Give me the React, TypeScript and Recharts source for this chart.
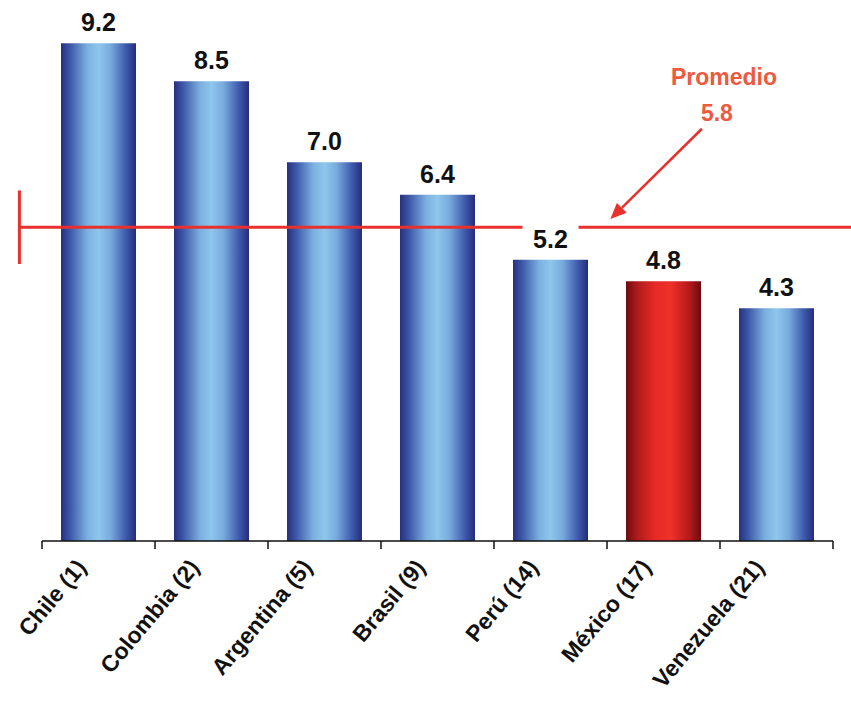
import React from "react";
import { Bar, Cell, ComposedChart, LabelList, ReferenceLine, XAxis, YAxis } from "recharts";

const COUNTRIES = ["Chile (1)", "Colombia (2)", "Argentina (5)", "Brasil (9)", "Perú (14)", "México (17)", "Venezuela (21)"];
const SCORES = [9.2, 8.5, 7.0, 6.4, 5.2, 4.8, 4.3];
const HIGHLIGHT = "México (17)";
const AVG = 5.8;
const EDGE_TICKS = [0, 1, 2, 3, 4, 5, 6, 7];

// slot = numeric position of each category on the tick-mark axis (category i spans i..i+1)
const data = COUNTRIES.map((name, i) => ({ name, score: SCORES[i], slot: i + 0.5 }));

const FONT = "'Liberation Sans', Arial, sans-serif";
const RED = "#e8302c";
const NOTE = "#ee5a3e";

function ValueLabel(props: any) {
  const { x, y, width, value } = props;
  const cx = x + width / 2;
  return (
    <g>
      <rect x={cx - 28} y={y - 36} width={56} height={30} fill="#fff" />
      <text x={cx} y={y - 12} textAnchor="middle" fontFamily={FONT} fontWeight="bold" fontSize={25} fill="#111">
        {Number(value).toFixed(1)}
      </text>
    </g>
  );
}

function CountryTick(props: any) {
  const { x, y, payload } = props;
  const tx = x - 11;
  return (
    <text
      x={tx}
      y={y}
      transform={`rotate(-50 ${tx} ${y})`}
      textAnchor="end"
      fontFamily={FONT}
      fontWeight="bold"
      fontSize={23}
      fill="#111"
    >
      {payload.value}
    </text>
  );
}

// arrow pointing at the average line, with its note at the tail
function AvgArrow(props: any) {
  const { x1, y1, x2, y2 } = props;
  const a = Math.atan2(y2 - y1, x2 - x1);
  const len = 16;
  const w = 7;
  const bx = x2 - len * Math.cos(a);
  const by = y2 - len * Math.sin(a);
  const px = -Math.sin(a) * w;
  const py = Math.cos(a) * w;
  return (
    <g>
      <line x1={x1} y1={y1} x2={bx} y2={by} stroke={RED} strokeWidth={2.5} />
      <polygon points={`${x2},${y2} ${bx + px},${by + py} ${bx - px},${by - py}`} fill={RED} />
      <text x={x1 + 22} y={y1 - 44} textAnchor="middle" fontFamily={FONT} fontWeight="bold" fontSize={23} fill={NOTE}>
        Promedio
      </text>
      <text x={x1 + 15} y={y1 - 8} textAnchor="middle" fontFamily={FONT} fontWeight="bold" fontSize={23} fill={NOTE}>
        {AVG.toFixed(1)}
      </text>
    </g>
  );
}

export default function App() {
  return (
    <div style={{ position: "absolute", left: 0, top: 0, width: 851, height: 701, background: "#fff" }}>
      <ComposedChart width={851} height={701} data={data} margin={{ top: 0, right: 18, left: 42, bottom: 0 }}>
        <defs>
          <linearGradient id="blueBar" x1="0" y1="0" x2="1" y2="0">
            <stop offset="0%" stopColor="#27307f" />
            <stop offset="12%" stopColor="#3c57a8" />
            <stop offset="35%" stopColor="#7cb0e0" />
            <stop offset="50%" stopColor="#8ec6ec" />
            <stop offset="66%" stopColor="#78abdc" />
            <stop offset="86%" stopColor="#3f5cae" />
            <stop offset="100%" stopColor="#262c7a" />
          </linearGradient>
          <linearGradient id="redBar" x1="0" y1="0" x2="1" y2="0">
            <stop offset="0%" stopColor="#6e0c10" />
            <stop offset="15%" stopColor="#b01a1c" />
            <stop offset="40%" stopColor="#e92a26" />
            <stop offset="60%" stopColor="#ee3129" />
            <stop offset="85%" stopColor="#b3191a" />
            <stop offset="100%" stopColor="#690b0e" />
          </linearGradient>
        </defs>
        <XAxis
          xAxisId="names"
          dataKey="name"
          height={150}
          axisLine={false}
          tickLine={false}
          tickSize={0}
          tickMargin={17}
          interval={0}
          tick={<CountryTick />}
        />
        <XAxis
          xAxisId="base"
          dataKey="slot"
          type="number"
          domain={[0, 7]}
          ticks={EDGE_TICKS}
          allowDataOverflow
          height={10}
          tickSize={8}
          tickFormatter={() => ""}
          axisLine={{ stroke: "#111", strokeWidth: 1.5 }}
          tickLine={{ stroke: "#111", strokeWidth: 1.5 }}
        />
        <YAxis hide domain={[0, 10]} allowDataOverflow />
        <Bar dataKey="score" xAxisId="names" barSize={75} isAnimationActive={false}>
          {data.map((d) => (
            <Cell key={d.name} fill={d.name === HIGHLIGHT ? "url(#redBar)" : "url(#blueBar)"} />
          ))}
          <LabelList dataKey="score" content={<ValueLabel />} />
        </Bar>
        <ReferenceLine
          xAxisId="base"
          ifOverflow="visible"
          segment={[{ x: -0.21, y: AVG }, { x: 7.2, y: AVG }]}
          stroke={RED}
          strokeWidth={3}
        />
        <ReferenceLine
          xAxisId="base"
          ifOverflow="visible"
          segment={[{ x: -0.2, y: AVG + 0.68 }, { x: -0.2, y: AVG - 0.68 }]}
          stroke={RED}
          strokeWidth={3}
        />
        <ReferenceLine
          xAxisId="base"
          ifOverflow="visible"
          segment={[{ x: 5.84, y: 7.62 }, { x: 5.03, y: 5.95 }]}
          shape={<AvgArrow />}
        />
      </ComposedChart>
    </div>
  );
}
